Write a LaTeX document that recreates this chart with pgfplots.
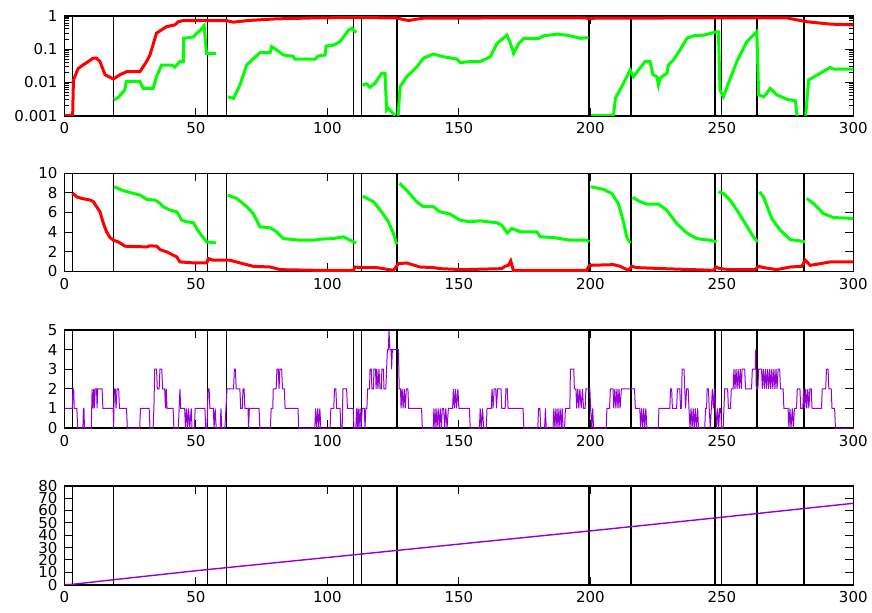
\documentclass[border=0pt]{standalone}
\usepackage{pgfplots}
\pgfplotsset{compat=1.18}
\usepackage{fontspec}
\setmainfont{DejaVu Sans}

\definecolor{gred}{RGB}{255,0,0}
\definecolor{ggreen}{RGB}{0,255,0}
\definecolor{gpurple}{RGB}{148,0,211}

\pgfplotsset{
  panel/.style={scale only axis, width=394.4pt, xmin=0, xmax=300,
    xtick={0,50,...,300}, anchor=north west,
    axis line style={line width=0.8pt},
    tick style={black, line width=0.5pt},
    major tick length=4pt, minor tick length=2pt,
    tick label style={font=\fontsize{7.5}{8}\selectfont},
    /pgf/number format/assume math mode=true,
    unbounded coords=jump},
}

% event lines, #1 = bottom, #2 = top of the panel
\newcommand{\events}[2]{%
  \pgfplotsinvokeforeach{3,18.7,54.3,61.7,109.9,112.9,247.4,250}{%
    \addplot[black, line width=0.6pt, forget plot] coordinates {(##1,#1) (##1,#2)};}
  \pgfplotsinvokeforeach{126.4,199.5,215.4,263.3,281.3}{%
    \addplot[black, line width=1.3pt, forget plot] coordinates {(##1,#1) (##1,#2)};}
}

\begin{document}
\begin{tikzpicture}
\useasboundingbox (-32.25pt,7.85pt) rectangle (403.75pt,-298.15pt);

% panel 1
\begin{axis}[panel, at={(0,0)}, height=50pt, ymode=log, ymin=0.001, ymax=1,
  ytick={0.001,0.01,0.1,1}, yticklabels={0.001,0.01,0.1,1}]
\events{0.001}{1}
\addplot[gred, line width=1.5pt] coordinates {
(0,0.001) (3.1,0.001) (3.4,0.0118) (5.2,0.026) (7,0.033) (9,0.042) (10.9,0.053)
(12.2,0.053) (13.5,0.042) (15.4,0.017) (18.6,0.0126) (21.1,0.017) (23.7,0.021)
(28.7,0.021) (31.2,0.042) (32.5,0.066) (35,0.3) (38.8,0.47) (42,0.53) (43.3,0.66)
(45,0.71) (61.7,0.71) (64.2,0.64) (70,0.72) (80,0.8) (95,0.86) (110,0.88)
(126.4,0.86) (129,0.76) (131,0.72) (134,0.79) (137,0.85) (198,0.86) (200,0.8)
(202,0.85) (274.7,0.86) (282.3,0.66) (291.2,0.56) (300,0.53)};
\addplot[ggreen, line width=1.5pt] coordinates {
(18.8,0.003) (20.4,0.0035) (22.9,0.0059) (23.5,0.0105) (28.7,0.0105) (29.9,0.0066)
(33.7,0.0066) (35,0.0148) (36.9,0.033) (40.8,0.033) (42,0.029) (43.9,0.042)
(45.2,0.042) (45.3,0.21) (49,0.23) (50.3,0.3) (51.6,0.36) (52.8,0.47) (53.1,0.5)
(54,0.074) (57.6,0.074) (60,nan)
(62.1,0.0037) (64.3,0.0033) (66.7,0.0083) (69.3,0.033) (74.3,0.078) (78.2,0.078)
(78.8,0.118) (80.7,0.094) (83.3,0.066) (87,0.06) (87.6,0.05) (95.3,0.05)
(96.5,0.062) (99.1,0.066) (99.5,0.123) (102.2,0.13) (104.8,0.166) (106.1,0.23)
(108,0.37) (109.3,0.42) (110.9,0.31) (112,nan)
(113.3,0.0083) (114.9,0.009) (116.1,0.0071) (118.1,0.0094) (120.6,0.0187)
(121.9,0.0187) (122.5,0.0015) (123.1,0.0017) (124.4,0.0013) (125.7,0.001) (126.3,nan)
(126.9,0.001) (127.6,0.0074) (130.2,0.0148) (134,0.029) (136.5,0.053) (140.3,0.071)
(144.1,0.059) (149.2,0.05) (150.5,0.039) (154.3,0.042) (158.1,0.042) (162,0.059)
(164.5,0.148) (168.3,0.26) (169.6,0.148) (170.8,0.074) (172.8,0.148) (174.7,0.21)
(180.4,0.21) (182.3,0.25) (187.4,0.28) (191.2,0.26) (196.2,0.21) (199.3,0.22) (199.8,nan)
(200.3,0.001) (208.8,0.001) (209.5,0.0033) (212.6,0.0094) (215.1,0.0235)
(216.4,0.0148) (218.3,0.0235) (220.8,0.042) (222.7,0.042) (223.8,0.017)
(225.3,0.0148) (225.9,0.0083) (226.5,0.0133) (229.1,0.0187) (229.7,0.033)
(231.6,0.047) (234.1,0.094) (236.7,0.21) (239.2,0.25) (243,0.26) (248.1,0.33)
(248.7,0.33) (249.3,0.0059) (250.6,0.0037) (252.5,0.0094) (255.7,0.042)
(259.5,0.166) (263.3,0.33) (264,0.0042) (265.9,0.0037) (267.1,0.0047)
(268.4,0.0066) (271,0.0042) (274.8,0.0031) (278,0.0028) (278.6,0.001) (280,nan)
(281.9,0.001) (283,0.0118) (287.4,0.0187) (291.2,0.028) (292.5,0.025) (300,0.025)};
\end{axis}

% panel 2
\begin{axis}[panel, at={(0,-78.8pt)}, height=49pt, ymin=0, ymax=10, ytick={0,2,...,10}]
\events{0}{10}
\addplot[gred, line width=1.5pt] coordinates {
(3,8.0) (4.6,7.6) (6.5,7.44) (9.7,7.27) (11,7.1) (12.2,6.6) (13.5,6.07) (14.8,4.88)
(16,4.03) (17.3,3.45) (18.6,3.17) (20.5,3.0) (23,2.56) (31.3,2.49) (32.5,2.6)
(35.1,2.56) (36.3,2.22) (38.9,1.98) (41.4,1.64) (42.7,1.47) (43.9,0.96) (49.6,0.85)
(54.1,0.85) (54.7,1.3) (56.6,1.13) (63,1.13) (66.8,0.85) (71.8,0.51) (78.2,0.44)
(82,0.17) (96,0.1) (109.9,0.1) (110.5,0.44) (112.4,0.38) (118.7,0.38) (125.1,0.1)
(127,0.78) (130.1,0.85) (135.2,0.44) (140.3,0.38) (142.8,0.27) (151.7,0.17)
(166.3,0.27) (167.5,0.51) (168.8,0.61) (169.7,1.06) (170.7,0.1) (198.6,0.1)
(199.6,0.61) (208.8,0.68) (211.3,0.51) (214.5,0.1) (215.7,0.51) (217.6,0.38)
(227.8,0.27) (246.8,0.1) (247.8,0.44) (249.3,0.27) (253.1,0.17) (262.6,0.17)
(263.9,0.51) (265.8,0.38) (270.9,0.17) (276,0.44) (280.4,0.51) (281.7,1.13)
(283.6,0.61) (286.2,0.72) (291.2,0.96) (300,0.96)};
\addplot[ggreen, line width=1.5pt] coordinates {
(18.8,8.63) (22.4,8.23) (26.2,7.95) (28.7,7.78) (31.3,7.34) (34.4,7.27) (36.3,6.93)
(37.6,6.59) (40.1,6.25) (42.7,6.07) (44.6,5.22) (46.5,5.05) (49,4.95) (51.5,3.86)
(54.1,3.0) (57.6,2.9) (60,nan)
(62.1,7.78) (65.5,7.44) (69.3,6.59) (71.8,5.9) (74.3,4.54) (78.2,4.44) (80.7,4.03)
(83.2,3.34) (89.6,3.17) (94.7,3.17) (97.2,3.28) (102.3,3.34) (106.1,3.52)
(108.6,3.17) (110.9,2.9) (112,nan)
(113.4,7.68) (117.5,7.1) (120.6,6.07) (123.2,5.05) (125.1,3.86) (126.3,2.76) (126.8,nan)
(127.4,8.98) (130.1,8.29) (133.9,7.1) (136.5,6.59) (140.3,6.59) (142.8,6.07)
(146.6,5.84) (150.4,5.22) (154.2,5.05) (158.1,5.15) (164.4,4.95) (166.3,4.71)
(168.4,3.92) (170.1,4.37) (173.3,4.03) (179.6,4.03) (180.9,3.52) (185.9,3.45)
(192.3,3.17) (198.6,3.17) (199.6,3.0) (199.9,nan)
(200.1,8.63) (205,8.36) (208.1,7.95) (210.6,6.93) (212.6,5.05) (213.8,3.52)
(215.1,2.9) (215.6,nan)
(216.1,7.54) (218.9,7.1) (221.4,6.86) (225.9,6.86) (229,6.25) (232.8,4.88)
(236.6,3.92) (240.4,3.34) (245.5,3.17) (248,3.0) (248.4,nan)
(248.7,8.12) (250.6,7.95) (253.1,7.27) (255.7,6.25) (258.9,4.88) (262,3.52)
(263.6,3.0) (264,nan)
(264.3,8.12) (265.8,7.61) (269,5.39) (272.2,4.2) (276,3.24) (279.8,3.1) (281.7,3.0) (282,nan)
(282.3,7.44) (284.8,6.93) (288.6,5.9) (292.4,5.49) (300,5.39)};
\end{axis}

% panel 3
\begin{axis}[panel, at={(0,-157.15pt)}, height=49pt, ymin=0, ymax=5, ytick={0,1,...,5}]
\events{0}{5}
\addplot[gpurple, line width=0.5pt] coordinates {
(0,1) (3,1) (3.2,2) (3.5,2) (3.7,1) (4.7,1) (5,0) (7,0) (7.2,1) (7.4,1) (7.6,0)
(10.2,0) (10.5,2) (10.8,1) (11.1,2) (11.4,1) (11.7,2) (12.2,2) (12.4,1) (12.6,2)
(14.3,2) (14.6,1) (18.5,1) (18.7,0) (18.9,2) (19.3,2) (19.6,1) (20,2) (20.6,2)
(20.9,1) (23.6,1) (23.9,0) (28.6,0) (28.9,1) (32.2,1) (32.5,0) (33.7,0) (34,1)
(34.3,3) (35,3) (35.3,2) (36,2) (36.3,3) (37,3) (37.3,2) (38.1,2) (38.4,1) (38.7,2)
(39,1) (41.3,1) (41.6,0) (43.3,0) (43.6,1) (43.9,2) (44.2,1) (45.7,1) (46,0)
(46.4,1) (46.8,0) (47.2,1) (47.6,0) (48.2,1) (48.5,0) (49.4,0) (49.7,1) (53.4,1)
(53.7,0) (54.2,0) (54.6,2) (55,2) (55.3,1) (56.6,1) (56.9,0) (57.3,1) (57.7,0)
(59.2,0) (59.5,1) (59.8,0) (61,0) (61.4,1) (61.8,2) (64.3,2) (64.6,3) (65,3)
(65.3,2) (66.7,2) (67,1) (67.6,1) (67.9,2) (68.3,2) (68.6,1) (69.8,1) (70,0)
(70.3,1) (74,1) (74.3,0) (78.3,0) (78.6,1) (79.2,1) (79.4,2) (80.5,2) (80.8,3)
(81.3,3) (81.6,2) (81.9,3) (82.6,3) (82.9,2) (83.6,2) (83.9,1) (88.8,1) (89.1,0)
(95.2,0) (95.5,1) (95.9,0) (96.3,1) (96.7,0) (97.1,1) (97.5,0) (101,0) (101.3,1)
(102.4,1) (102.7,2) (103.2,2) (103.5,1) (104.8,1) (105.1,0) (105.6,0) (105.9,2)
(107.3,2) (107.6,1) (109.8,1) (110.1,0) (110.8,0) (111.1,1) (111.4,0) (111.7,1)
(112,0) (112.4,1) (112.8,0) (113.2,1) (114,1) (114.3,0) (114.6,1) (115,1)
(115.3,2) (116,2) (116.2,3) (116.7,3) (116.9,2) (117.5,2) (117.7,3) (118.3,3)
(118.5,2) (118.8,3) (119.2,2) (119.6,3) (120,2) (120.5,2) (120.7,3) (121.3,3)
(121.5,2) (122.2,2) (122.5,3) (122.8,4) (123.2,4) (123.4,5) (123.8,4) (124.2,4)
(124.4,3) (124.7,4) (127,4) (127.3,2) (127.8,2) (128,1) (128.4,2) (128.8,1)
(129.2,2) (129.6,1) (130,2) (130.6,2) (130.9,1) (135.8,1) (136.1,0) (140.2,0)
(140.5,1) (140.9,0) (141.3,1) (141.7,0) (142.1,1) (142.5,0) (142.9,1) (143.3,0)
(143.7,1) (144.2,1) (144.6,0) (145,1) (145.5,0) (146,1) (147.6,1) (147.9,2)
(148.3,1) (148.7,2) (149.1,1) (149.6,2) (150,1) (154,1) (154.3,0) (157.8,0)
(158.1,1) (158.5,0) (159,1) (159.4,0) (160.4,0) (160.7,1) (162.3,1) (162.6,2)
(163,1) (163.4,2) (164,2) (164.3,1) (164.7,2) (166,2) (166.3,1) (167.6,1)
(167.9,2) (168.4,2) (168.7,1) (174.4,1) (174.7,0) (180,0) (180.3,1) (180.8,1)
(181.1,0) (182.6,0) (182.9,1) (183.2,0) (185.8,0) (186.1,1) (186.5,0) (186.9,1)
(187.3,0) (187.7,1) (188.1,0) (188.5,1) (188.9,0) (189.3,1) (189.6,0) (190.2,0)
(190.5,1) (192.2,1) (192.4,3) (193.7,3) (193.9,2) (194.5,2) (194.8,1) (195.2,2)
(195.6,1) (196,2) (196.5,1) (197,2) (197.4,1) (198,1) (198.3,2) (199.8,2)
(200.1,1) (200.5,0) (200.9,1) (201.2,0) (206,0) (206.3,1) (207.3,1) (207.6,2)
(208.6,2) (208.9,1) (209.3,2) (209.7,1) (210.1,2) (210.5,1) (210.9,2) (211.3,1)
(211.8,2) (216.8,2) (217.1,1) (218.8,1) (219.1,0) (219.5,1) (219.9,0) (220.3,1)
(220.7,0) (221.1,1) (221.5,0) (225.8,0) (226.1,1) (230.2,1) (230.5,2) (230.9,2)
(231.2,1) (232.8,1) (233.1,2) (234,2) (234.3,1) (234.6,1) (234.9,3) (235.6,3)
(235.9,2) (236.2,1) (236.6,2) (237.2,2) (237.5,1) (237.9,0) (238.3,1) (238.7,0)
(239.1,1) (239.5,0) (239.9,1) (240.3,0) (240.8,1) (241.1,0) (243.5,0) (243.8,1)
(244.2,1) (244.4,2) (244.9,2) (245.2,1) (245.6,0) (246,1) (246.4,2) (246.8,1)
(247.2,2) (247.6,1) (248,0) (248.4,1) (248.8,0) (249.2,1) (249.6,1) (249.9,0)
(250.5,0) (250.8,1) (251.1,2) (252.2,2) (252.5,1) (253.3,1) (253.6,2) (254.3,2)
(254.6,3) (255,2) (255.4,3) (255.8,2) (256.2,3) (256.6,2) (257,3) (257.4,2)
(257.7,3) (258.7,3) (259,2) (261.3,2) (261.6,3) (262.7,3) (262.9,4) (263.1,2)
(263.7,2) (264,3) (265.1,3) (265.4,2) (265.8,3) (266.2,2) (266.6,3) (267,2)
(267.4,3) (267.8,2) (268.2,3) (268.6,2) (269,3) (269.4,2) (269.8,3) (270.2,2)
(270.6,3) (271,2) (271.4,3) (272,3) (272.3,2) (273.3,2) (273.6,1) (275.2,1)
(275.5,0) (275.9,1) (276.3,0) (276.8,1) (277.2,0) (277.6,1) (278.4,1) (278.7,2)
(279.7,2) (280,1) (280.8,1) (281.1,2) (281.5,1) (281.9,2) (282.3,1) (282.7,2)
(283.1,1) (283.5,2) (284,2) (284.3,1) (287.9,1) (288.2,2) (289.5,2) (289.8,3)
(290.4,3) (290.7,2) (291.6,2) (291.9,1) (292.9,1) (293.2,0) (300,0)};
\end{axis}

% panel 4
\begin{axis}[panel, at={(0,-235pt)}, height=49.5pt, ymin=0, ymax=80, ytick={0,10,...,80}]
\events{0}{80}
\addplot[gpurple, line width=0.7pt] coordinates {
(0,0) (3,0.3) (18.5,4) (50,11.3) (100,22) (150,32.8) (200,43.5) (250,54.5) (300,65.8)};
\end{axis}
\end{tikzpicture}
\end{document}
